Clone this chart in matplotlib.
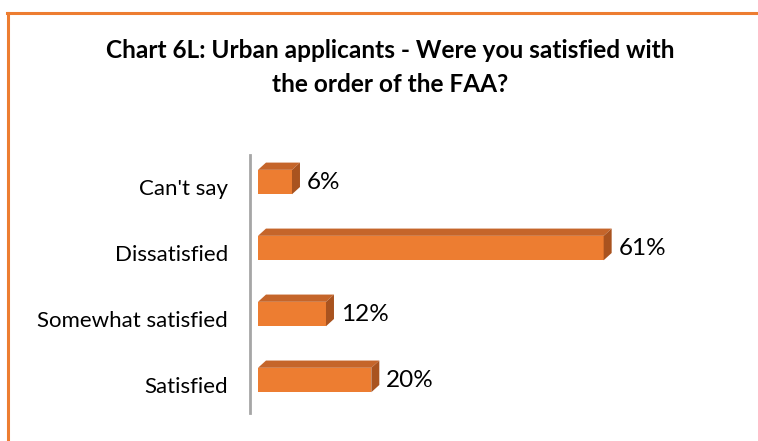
import matplotlib.pyplot as plt
import matplotlib.transforms as mtransforms
from matplotlib.patches import Polygon
from matplotlib.lines import Line2D

categories = ["Satisfied", "Somewhat satisfied", "Dissatisfied", "Can't say"]
values = [20, 12, 61, 6]

front = "#ED7D31"
top = "#C5652A"
side = "#A9531F"

fig = plt.figure(figsize=(7.58, 4.41), dpi=100)

# orange frame (top and left edges only visible)
fig.add_artist(Line2D([7 / 758, 1.0], [1 - 13 / 441, 1 - 13 / 441], color=front, lw=2.2,
                      transform=fig.transFigure))
fig.add_artist(Line2D([8 / 758, 8 / 758], [0, 1 - 13 / 441], color=front, lw=2.2,
                      transform=fig.transFigure))

fig.text(390 / 758, 1 - 51 / 441, "Chart 6L: Urban applicants - Were you satisfied with",
         ha="center", va="center", fontsize=17.6, fontweight="bold", family="Lato")
fig.text(390 / 758, 1 - 84 / 441, "the order of the FAA?",
         ha="center", va="center", fontsize=17.6, fontweight="bold", family="Lato")

ax = fig.add_axes([250 / 758, 28 / 441, 450 / 758, 258 / 441])
ax.set_xlim(-1.41, 78)
ax.set_ylim(-0.5, 3.41)

h = 0.37
dx = 1.41
dy = 0.11
for i, (cat, v) in enumerate(zip(categories, values)):
    y0 = i - h / 2
    ax.add_patch(Polygon([(0, y0), (v, y0), (v, y0 + h), (0, y0 + h)],
                         closed=True, fc=front, ec="none", zorder=3))
    ax.add_patch(Polygon([(0, y0 + h), (v, y0 + h), (v + dx, y0 + h + dy), (dx, y0 + h + dy)],
                         closed=True, fc=top, ec="none", zorder=3))
    ax.add_patch(Polygon([(v, y0), (v + dx, y0 + dy), (v + dx, y0 + h + dy), (v, y0 + h)],
                         closed=True, fc=side, ec="none", zorder=3))
    ax.text(v + dx + 1.2, i - 0.01, f"{v}%", ha="left", va="center", fontsize=17.5,
            family="Lato")

ax.set_yticks(range(len(categories)))
ax.set_yticklabels(categories, fontsize=16, family="Lato")
ax.tick_params(axis="y", length=0, pad=16)
shift = mtransforms.ScaledTranslation(0, -5 / 100, fig.dpi_scale_trans)
for lbl in ax.get_yticklabels():
    lbl.set_transform(lbl.get_transform() + shift)
ax.set_xticks([])
for s in ["top", "right", "bottom"]:
    ax.spines[s].set_visible(False)
ax.spines["left"].set_color("#A6A6A6")
ax.spines["left"].set_linewidth(2)

fig.savefig("out.png", dpi=100)
